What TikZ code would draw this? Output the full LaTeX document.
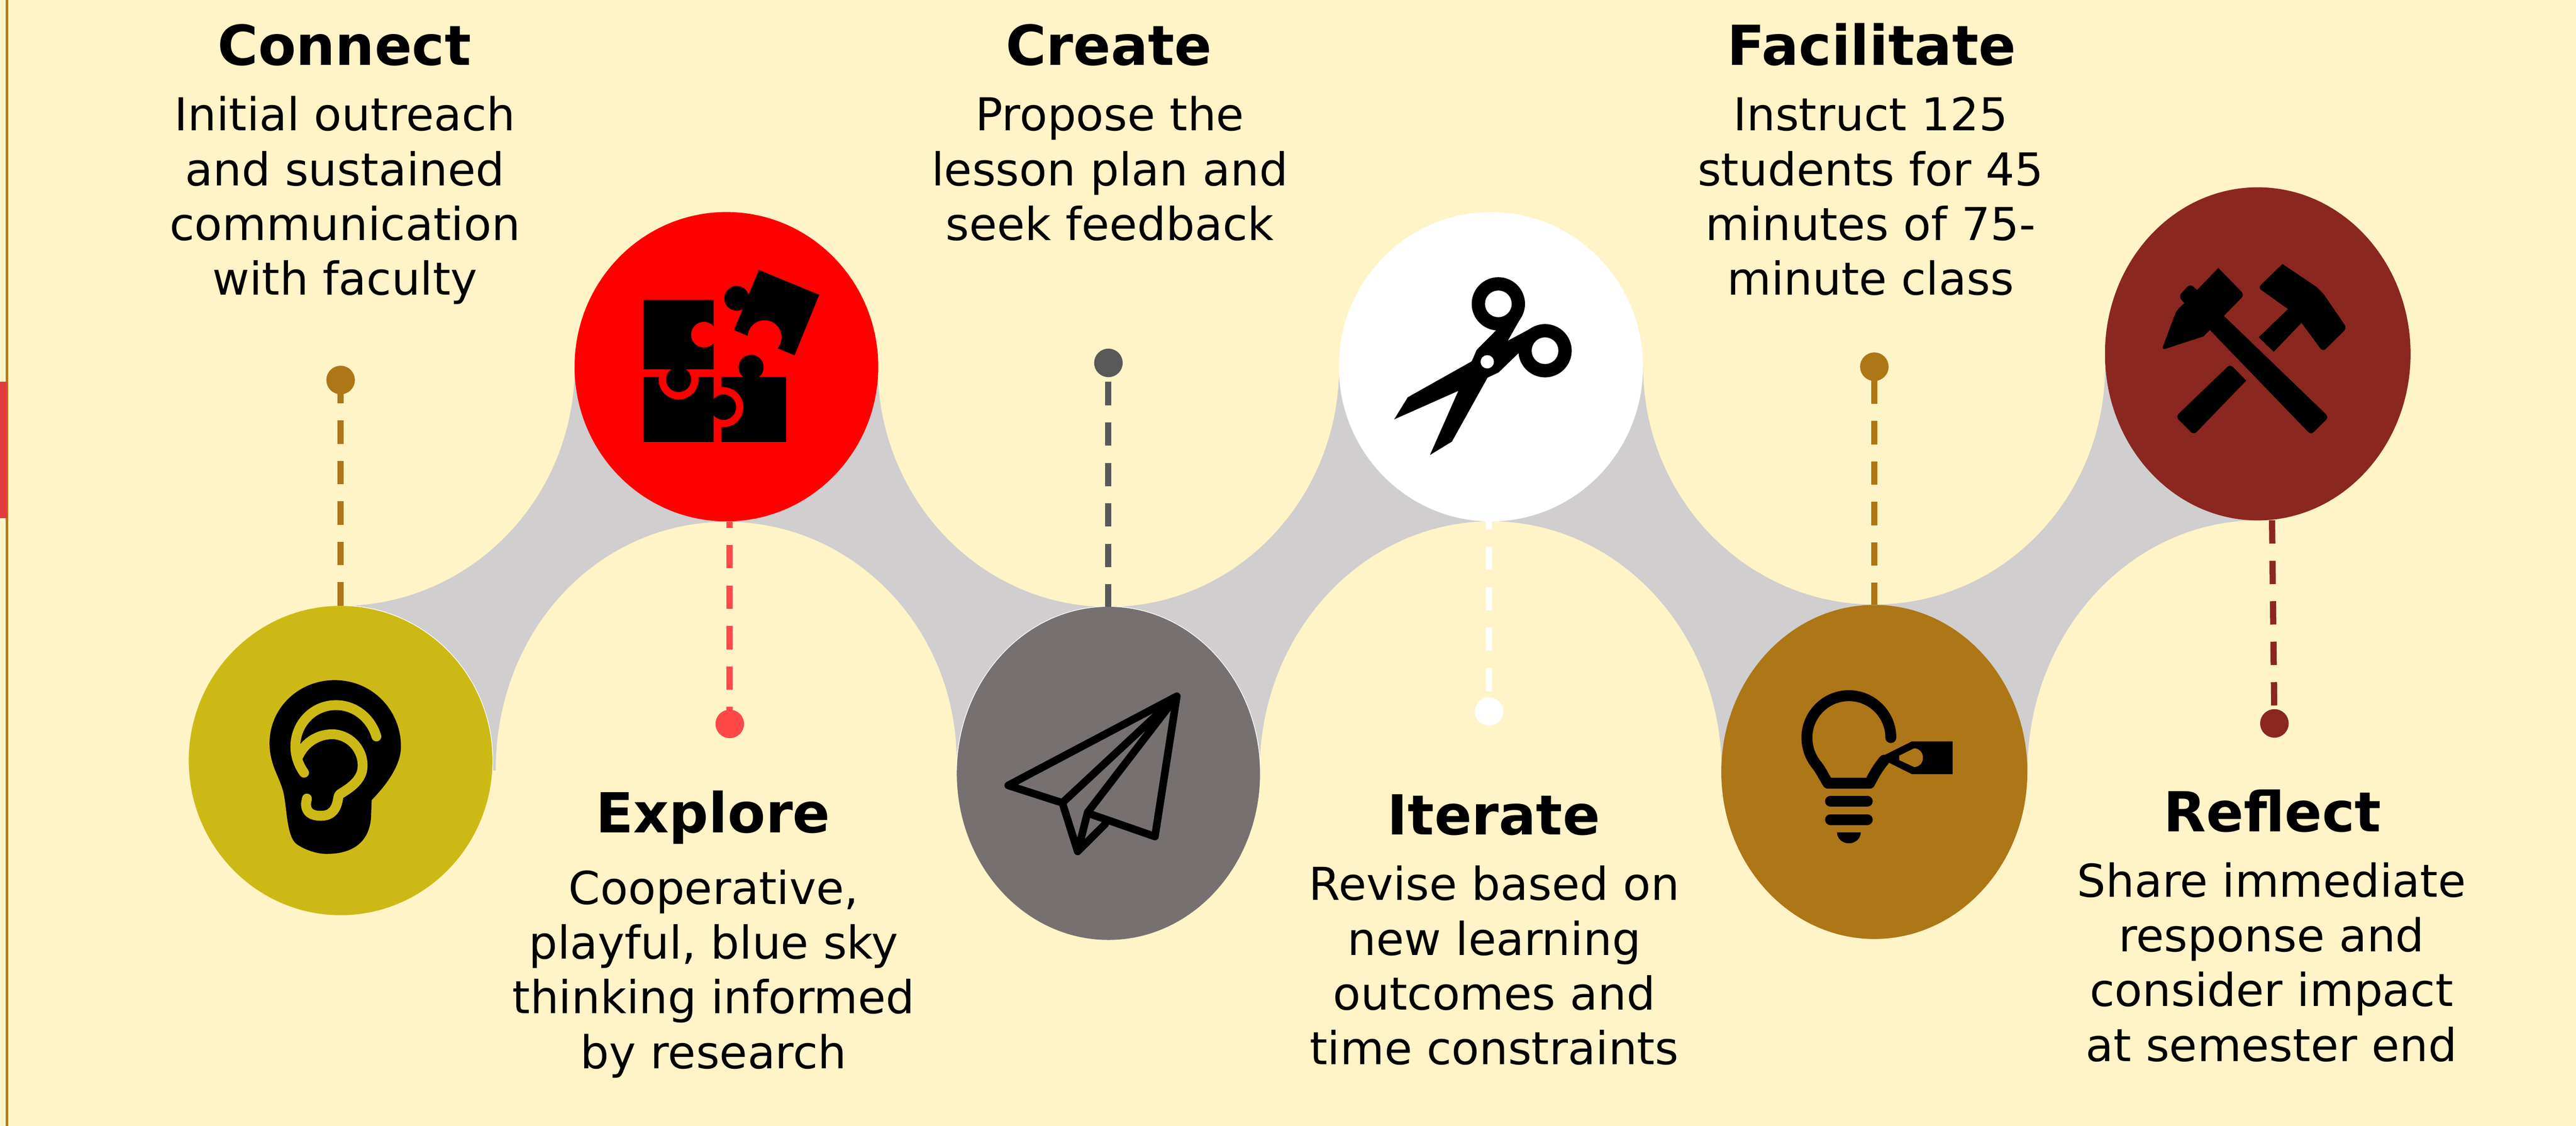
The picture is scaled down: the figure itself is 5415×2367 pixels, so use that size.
\documentclass[tikz,border=0pt]{standalone}
\usepackage{fontspec}
\setmainfont{DejaVu Sans}
\usetikzlibrary{shapes.geometric}
\definecolor{bgc}{HTML}{FFF3C8}
\definecolor{bandc}{HTML}{D0CECE}
\definecolor{earc}{HTML}{CDB916}
\definecolor{planec}{HTML}{767170}
\definecolor{bulbc}{HTML}{AD7617}
\definecolor{hammerc}{HTML}{8A2720}
\definecolor{exploredot}{HTML}{FF4848}
\definecolor{createdot}{HTML}{595959}
\definecolor{railc}{HTML}{B07B20}
\definecolor{tabc}{HTML}{E33B3B}
\newcommand{\firstline}{\rule{0pt}{0.8em}}
\tikzset{
  stage/.style={ellipse,inner sep=0pt,outer sep=0pt},
  endpoint/.style={circle,inner sep=0pt,outer sep=0pt,minimum size=0.6cm},
  leader/.style={line width=0.13cm,dash pattern=on 0.49cm off 0.36cm},
  titletext/.style={anchor=base,font=\fontsize{33pt}{40pt}\selectfont\bfseries,inner sep=0pt},
  bodytext/.style={anchor=north,align=center,font=\fontsize{27.1pt}{32.72pt}\selectfont,inner sep=0pt},
  icon/.style={x=0.0033333cm,y=-0.0033333cm},
}
\begin{document}
\begin{tikzpicture}[x=0.01cm,y=-0.01cm]
\useasboundingbox (0,0) rectangle (5415,2367);
\fill[bgc] (0,0) rectangle (5415,2367);
\fill[railc] (11.7,0) rectangle (17.7,2367);
\fill[tabc] (0,803) rectangle (15,1090);
% band
\fill[bandc] (716,1274)
  .. controls (988,1274) and (1208,1049) .. (1208,771)
  -- (1845,771)
  .. controls (1845,1050) and (2062,1276) .. (2330,1276)
  .. controls (2598,1276) and (2815,1050) .. (2815,771)
  -- (3454,771)
  .. controls (3454,1048) and (3672,1271) .. (3940,1271)
  .. controls (4208,1271) and (4425,1048) .. (4425,771)
  -- (4746,1094)
  .. controls (4479,1094) and (4262,1330) .. (4262,1620)
  -- (3619,1620)
  .. controls (3619,1330) and (3402,1096) .. (3134,1096)
  .. controls (2866,1096) and (2648,1330) .. (2648,1620)
  -- (2011,1600)
  .. controls (2011,1322) and (1795,1097) .. (1527,1097)
  .. controls (1259,1097) and (1042,1322) .. (1042,1620)
  -- (716,1599) -- cycle;
% named anchors
\begin{scope}
\clip (716,1260) rectangle (1050,1620);
\node[stage,draw=white,line width=0.03cm,minimum width=6.38cm,minimum height=6.5cm] at (716,1599) {};
\end{scope}
\begin{scope}
\clip (2000,1260) rectangle (2660,1620);
\node[stage,draw=white,line width=0.03cm,minimum width=6.37cm,minimum height=7cm] at (2330,1626) {};
\end{scope}
\node[stage,fill=earc,minimum width=6.38cm,minimum height=6.5cm] (ear) at (716,1599) {};
\node[stage,fill=red,minimum width=6.38cm,minimum height=6.5cm] (puzzle) at (1527,771) {};
\node[stage,fill=planec,minimum width=6.37cm,minimum height=7cm] (plane) at (2330,1626) {};
\node[stage,fill=white,minimum width=6.39cm,minimum height=6.5cm] (scissors) at (3134,771) {};
\node[stage,fill=bulbc,minimum width=6.43cm,minimum height=7.02cm] (bulb) at (3940,1623) {};
\node[stage,fill=hammerc,minimum width=6.42cm,minimum height=7cm] (hammer) at (4746,744) {};
\node[endpoint,fill=bulbc] (connectdot) at (716,799) {};
\node[endpoint,fill=exploredot] (exploredotn) at (1534,1522) {};
\node[endpoint,fill=createdot] (createdotn) at (2330,763) {};
\node[endpoint,fill=white] (iteratedot) at (3130,1496) {};
\node[endpoint,fill=bulbc] (facilitatedot) at (3940,771) {};
\node[endpoint,fill=hammerc] (reflectdot) at (4781,1521) {};
\coordinate (exploreend) at (1534,1097);
\coordinate (iterateend) at (3130,1096);
\coordinate (reflectend) at (4776,1094);
% leaders
\draw[leader,bulbc] (connectdot.center) -- (ear.north);
\draw[leader,exploredot,dash phase=0.36cm] (exploreend) -- (exploredotn.center);
\draw[leader,createdot,dash phase=0.45cm] (createdotn.center) -- (plane.north);
\draw[leader,white,dash phase=0.32cm] (iterateend) -- (iteratedot.center);
\draw[leader,bulbc,dash phase=0.56cm] (facilitatedot.center) -- (bulb.north);
\draw[leader,hammerc] (reflectend) -- (reflectdot.center);
% ear icon
\begin{scope}[shift={(540,1410)},icon]
\fill[black] (80,460) .. controls (80,230) and (270,60) .. (490,60)
  .. controls (730,60) and (910,250) .. (910,480)
  .. controls (910,610) and (800,740) .. (725,818)
  -- (722,900) .. controls (722,1060) and (630,1158) .. (440,1158)
  .. controls (370,1158) and (290,1125) .. (250,1095)
  .. controls (190,1050) and (190,880) .. (170,780)
  .. controls (150,680) and (80,600) .. (80,460) -- cycle;
\draw[earc,line width=0.207cm,line cap=round] (755,416) .. controls (720,300) and (620,218) .. (500,218)
  .. controls (350,218) and (243,340) .. (243,480) .. controls (243,540) and (265,600) .. (298,645);
\draw[earc,line width=0.207cm,line cap=round,line join=round] (258,550) .. controls (300,450) and (390,402) .. (475,402)
  .. controls (580,402) and (668,490) .. (668,600)
  .. controls (668,690) and (590,740) .. (525,780)
  .. controls (515,790) and (515,800) .. (512,815)
  .. controls (500,880) and (470,917) .. (405,917)
  .. controls (350,917) and (310,900) .. (310,840) -- (316,808);
\end{scope}
% puzzle icon
\begin{scope}[shift={(1340,550)},icon]
\fill[black] (528,730) rectangle (938,1140);
\fill[red] (543,920) circle[radius=0.42cm];
\fill[black] (39,730) rectangle (480,1140);
\fill[red] (260,745) circle[radius=0.42cm];
\fill[black] (39,240) rectangle (480,682);
\fill[black] (260,745) circle[radius=0.263cm];
\fill[black] (543,920) circle[radius=0.267cm];
\fill[red] (420,462) circle[radius=0.27cm];
\fill[black] (718,668) circle[radius=0.263cm];
\fill[black] (767,53) -- (1148,210) -- (992,592) -- (610,433) -- cycle;
\fill[black] (627,232) circle[radius=0.26cm];
\fill[red] (803,478) circle[radius=0.357cm];
\end{scope}
% plane icon
\begin{scope}[shift={(2090,1440)},icon]
\draw[black,line width=0.16cm,line cap=round,line join=round]
  (1153,72) -- (88,635) -- (430,745) -- (527,1052) -- (700,880)
  (430,745) -- (1153,72) -- (590,805) -- (527,1052)
  (590,810) -- (1015,958) -- (1153,72);
\end{scope}
% scissors icon
\begin{scope}[shift={(2910,565)},icon]
\fill[black] (707,388) -- (583,513) -- (552,585) -- (148,812) -- (62,952) -- (467,772) -- (288,1177) -- (427,1092) -- (652,688) -- (722,655) -- (848,533) -- (880,450) -- (920,380) -- (780,455) -- (862,310) -- (800,250) -- cycle;
\fill[black] (720,222) circle[radius=0.56cm];
\fill[black] (1015,518) circle[radius=0.56cm];
\fill[white] (720,222) circle[radius=0.28cm];
\fill[white] (1015,518) circle[radius=0.28cm];
\fill[white] (650,588) circle[radius=0.14cm];
\end{scope}
% bulb icon
\begin{scope}[shift={(3770,1435)},icon]
\draw[black,line width=0.23cm,line cap=round,line join=round]
  (615,348) .. controls (615,202) and (496,83) .. (350,83)
  .. controls (204,83) and (85,202) .. (85,348)
  .. controls (85,430) and (120,490) .. (150,525)
  .. controls (180,565) and (200,610) .. (218,636)
  -- (481,636) .. controls (505,590) and (530,542) .. (573,491);
\fill[black] (542,475) -- (748,372) -- (1005,372) -- (1005,579) -- (748,579) -- (604,507) -- cycle;
\fill[bulbc] (668,462) -- (762,416) .. controls (794,416) and (818,443) .. (818,475) .. controls (818,507) and (794,534) .. (762,534) -- (668,490) -- cycle;
\draw[black,line width=0.23cm,line cap=round] (234,751) -- (466,751) (234,866) -- (466,866);
\fill[black] (275,947) -- (425,947) .. controls (425,985) and (391,1016) .. (350,1016) .. controls (309,1016) and (275,985) .. (275,947) -- cycle;
\end{scope}
% hammer icon
\begin{scope}[shift={(4540,540)},icon]
\fill[black,rounded corners=0.085cm] (370,70) -- (535,240) [sharp corners] -- (405,373) [rounded corners=0.085cm] -- (1068,1012) -- (955,1125) [sharp corners] -- (316,462) -- (275,503) [rounded corners=0.085cm] -- (12,589) -- (105,340) [sharp corners] -- (155,292) [rounded corners=0.085cm] -- (118,250) -- (192,170) [sharp corners] -- (235,210) -- cycle;
\fill[black,rounded corners=0.085cm] (775,45) -- (620,195) [sharp corners] -- (810,330) -- (625,508) -- (720,600) -- (895,417) [rounded corners=0.085cm] -- (1030,600) -- (1182,450) [sharp corners] -- (1035,235) -- (990,190) -- cycle;
\fill[black,rounded corners=0.085cm] (445,678) [sharp corners] -- (546,782) [rounded corners=0.085cm] -- (215,1125) -- (100,1010) -- cycle;
\end{scope}
% text
\node[titletext] (connecttitle) at (724,137) {Connect};
\node[bodytext] (connectbody) at (725,198) {\firstline Initial outreach\\and sustained\\communication\\with faculty};
\node[titletext] (exploretitle) at (1499,1751) {Explore};
\node[bodytext] (explorebody) at (1500,1824) {\firstline Cooperative,\\playful, blue sky\\thinking informed\\by research};
\node[titletext] (createtitle) at (2331,137) {Create};
\node[bodytext] (createbody) at (2333,198) {\firstline Propose the\\lesson plan and\\seek feedback};
\node[titletext] (iteratetitle) at (3140,1755) {Iterate};
\node[bodytext] (iteratebody) at (3141,1816) {\firstline Revise based on\\new learning\\outcomes and\\time constraints};
\node[titletext] (facilitatetitle) at (3934,137) {Facilitate};
\node[bodytext] (facilitatebody) at (3932,198) {\firstline Instruct 125\\students for 45\\minutes of 75-\\minute class};
\node[titletext] (reflecttitle) at (4777,1748) {Reflect};
\node[bodytext] (reflectbody) at (4775,1809) {\firstline Share immediate\\response and\\consider impact\\at semester end};
\end{tikzpicture}
\end{document}
